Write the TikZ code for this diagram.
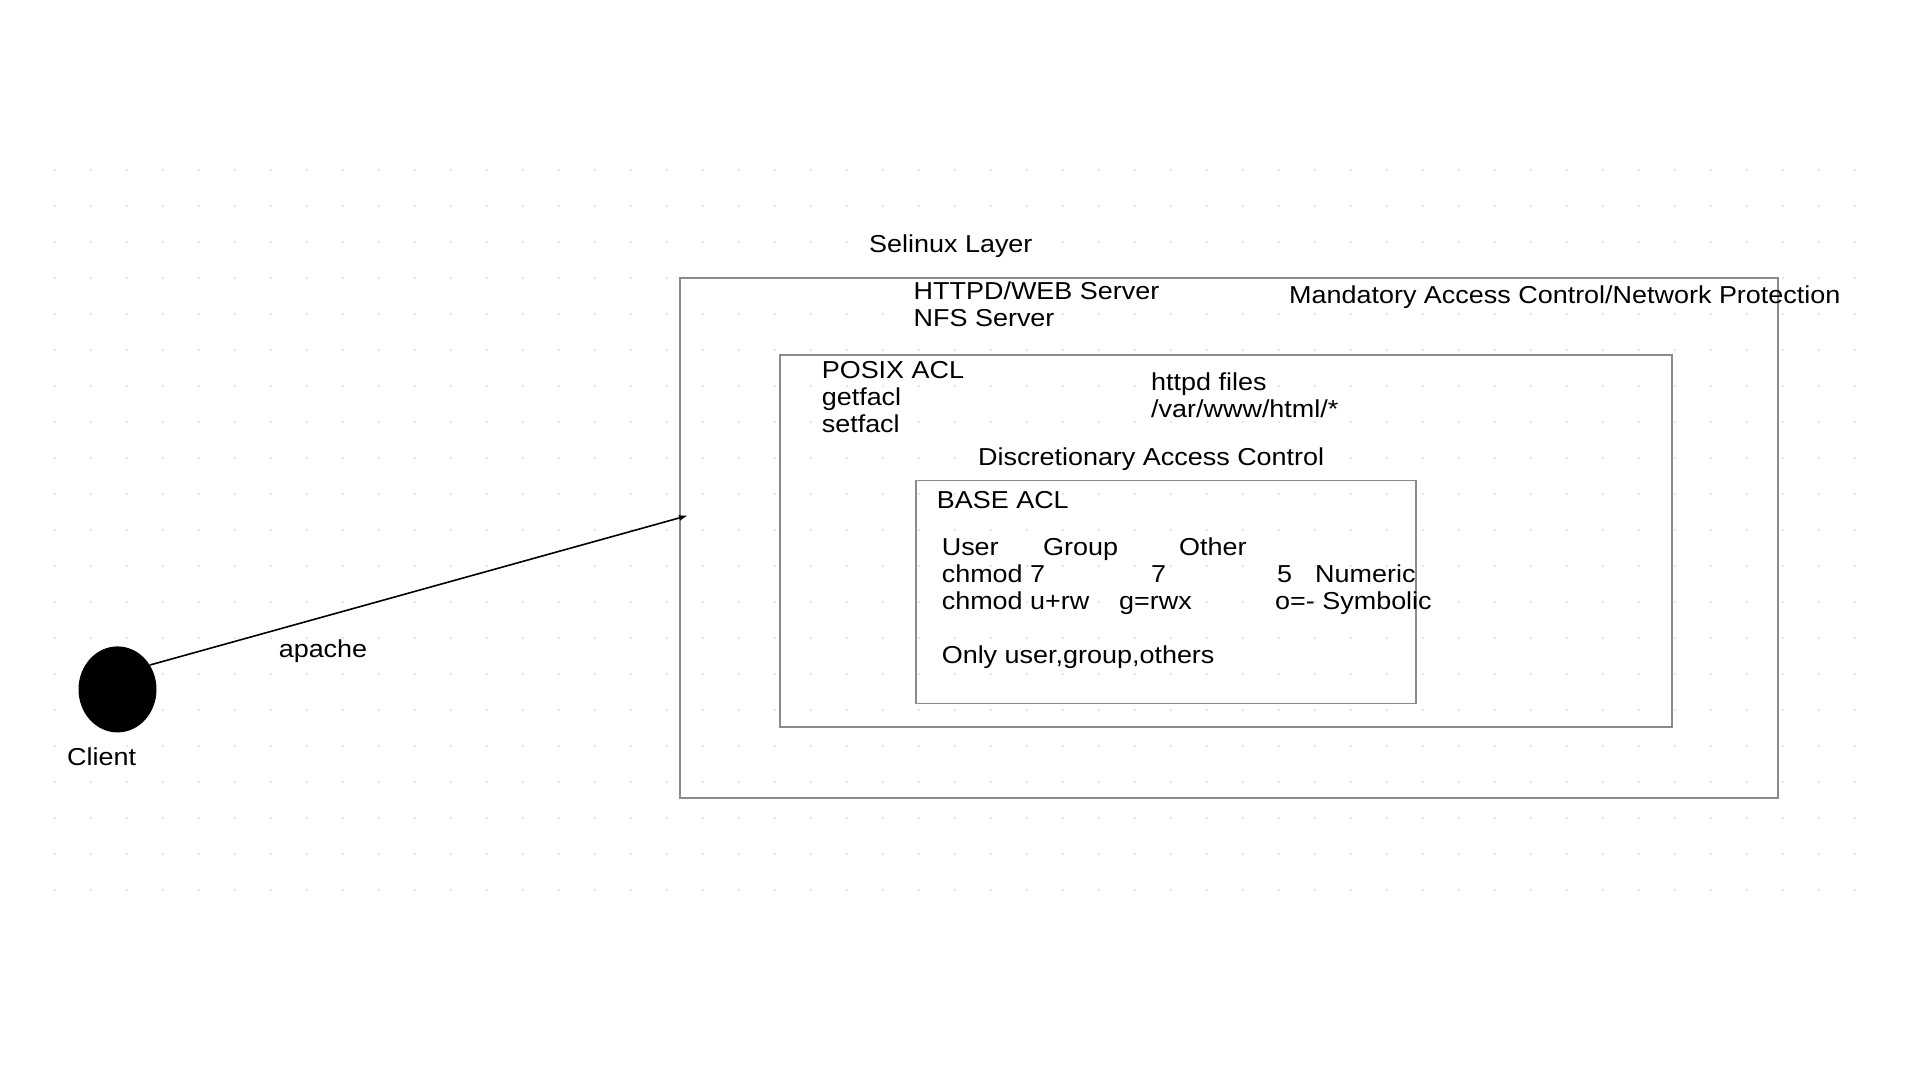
\documentclass[tikz,border=0pt]{standalone}
\usepackage{fontspec}
\setmainfont{Liberation Sans}[FakeStretch=1.1]
\usetikzlibrary{shapes.geometric,arrows.meta}

\definecolor{boxgray}{HTML}{8A8A8A}
\definecolor{dotgray}{HTML}{E4E4E4}
\newcommand{\diagfont}{\fontsize{24.5}{27}\selectfont}

\begin{document}
\begin{tikzpicture}[x=1pt,y=-1pt]

        \useasboundingbox (0,0) rectangle (1920,1080);

        % dotted background
        \foreach \i in {0,...,50} {
          \foreach \j in {0,...,20} {
            \fill[dotgray] (55+36*\i,170+36*\j) circle (1.3pt);
          }
        }

        \begin{scope}[every node/.style={rectangle,draw=boxgray,line width=1.5pt,inner sep=0}]
          \node[minimum width=1098,minimum height=520] (selinux) at (1229,538) {};
          \node[minimum width=892,minimum height=372]  (dac)     at (1226,541) {};
          \node[minimum width=500,minimum height=223]  (base)    at (1166,592) {};
        \end{scope}

        \node[ellipse,fill=black,minimum width=78,minimum height=86,inner sep=0] (client) at (117.5,689.4) {};
        \coordinate (entry) at (688,515.5);

        \begin{scope}[every node/.style={anchor=base west,inner sep=0,font=\diagfont}]
          \node (selinuxlbl) at (869,252)    {Selinux Layer};
          \node (httpd)      at (913.5,299.5) {HTTPD/WEB Server};
          \node (nfs)        at (913.5,326.5) {NFS Server};
          \node (mac)        at (1289,303.5) {Mandatory Access Control/Network Protection};
          \node (posix)      at (821.6,378)  {POSIX ACL};
          \node (getfacl)    at (821.6,405)  {getfacl};
          \node (setfacl)    at (821.6,432)  {setfacl};
          \node (files)      at (1151,390.5) {httpd files};
          \node (htmlpath)   at (1151,417.5) {/var/www/html/*};
          \node (daclbl)     at (978,465)    {Discretionary Access Control};
          \node (baselbl)    at (936.7,508)  {BASE ACL};
          \node (user)       at (941.6,555.5) {User};
          \node (group)      at (1043,555.5) {Group};
          \node (other)      at (1179,555.5) {Other};
          \node (numu)       at (941.6,582.5) {chmod 7};
          \node (numg)       at (1151,582.5) {7};
          \node (numo)       at (1277,582.5) {5};
          \node (numeric)    at (1315,582.5) {Numeric};
          \node (symu)       at (941.6,609.5) {chmod u+rw};
          \node (symg)       at (1119,609.5) {g=rwx};
          \node (symo)       at (1275,609.5) {o=- Symbolic};
          \node (only)       at (941.6,663.5) {Only user,group,others};
          \node (clientlbl)  at (67,765)     {Client};
          \node[anchor=base] (apache) at (323,657.5) {apache};
        \end{scope}

        \draw[line width=1.6pt,-{Latex[length=9pt,width=6pt]}] (client.37) -- (entry);

      \end{tikzpicture}
\end{document}
